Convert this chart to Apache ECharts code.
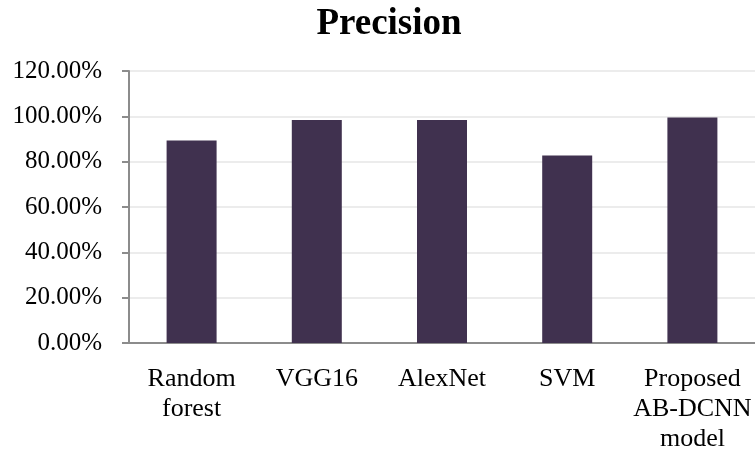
<!DOCTYPE html>
<html>
<head>
<meta charset="utf-8">
<script src="https://cdn.jsdelivr.net/npm/echarts@6/dist/echarts.min.js"></script>
<style>
  html, body { margin: 0; padding: 0; background: #ffffff; }
  #main { width: 755px; height: 454px; }
</style>
</head>
<body>
<div id="main"></div>
<script>
// chart data
var categories = ['Random\nforest', 'VGG16', 'AlexNet', 'SVM', 'Proposed\nAB-DCNN\nmodel'];
var precision = [89.3, 98.4, 98.4, 82.7, 99.5];
var yTicks = [0, 20, 40, 60, 80, 100, 120];

var chart = echarts.init(document.getElementById('main'));
var font = '"Liberation Serif", "Times New Roman", serif';

var option = {
    backgroundColor: '#ffffff',
    animation: false,
    title: {
        text: 'Precision',
        left: 384,
        top: 1,
        textAlign: 'center',
        textStyle: { fontFamily: font, fontWeight: 'bold', fontSize: 37, color: '#000000' }
    },
    grid: { left: 129, right: 0, top: 71, bottom: 110 },
    xAxis: {
        type: 'category',
        data: categories,
        axisLine: { show: true, lineStyle: { color: '#8c8c8c', width: 2 } },
        axisTick: { show: false },
        axisLabel: {
            margin: 21,
            interval: 0,
            fontFamily: font,
            fontSize: 26,
            lineHeight: 30,
            color: '#000000'
        }
    },
    yAxis: {
        type: 'value',
        min: yTicks[0],
        max: yTicks[yTicks.length - 1],
        interval: 20,
        axisLine: { show: true, lineStyle: { color: '#8c8c8c', width: 2 } },
        axisTick: { show: true, length: 7, lineStyle: { color: '#8c8c8c', width: 2 } },
        splitLine: { show: true, lineStyle: { color: '#ececec', width: 2 } },
        axisLabel: {
            margin: 27,
            fontFamily: font,
            fontSize: 25,
            color: '#000000',
            padding: [6, 0, 0, 0],
            formatter: function (v) { return v.toFixed(2) + '%'; }
        }
    },
    series: [{
        type: 'bar',
        data: precision,
        barWidth: 50,
        itemStyle: { color: '#40314f' }
    }]
};

chart.setOption(option);
</script>
</body>
</html>
